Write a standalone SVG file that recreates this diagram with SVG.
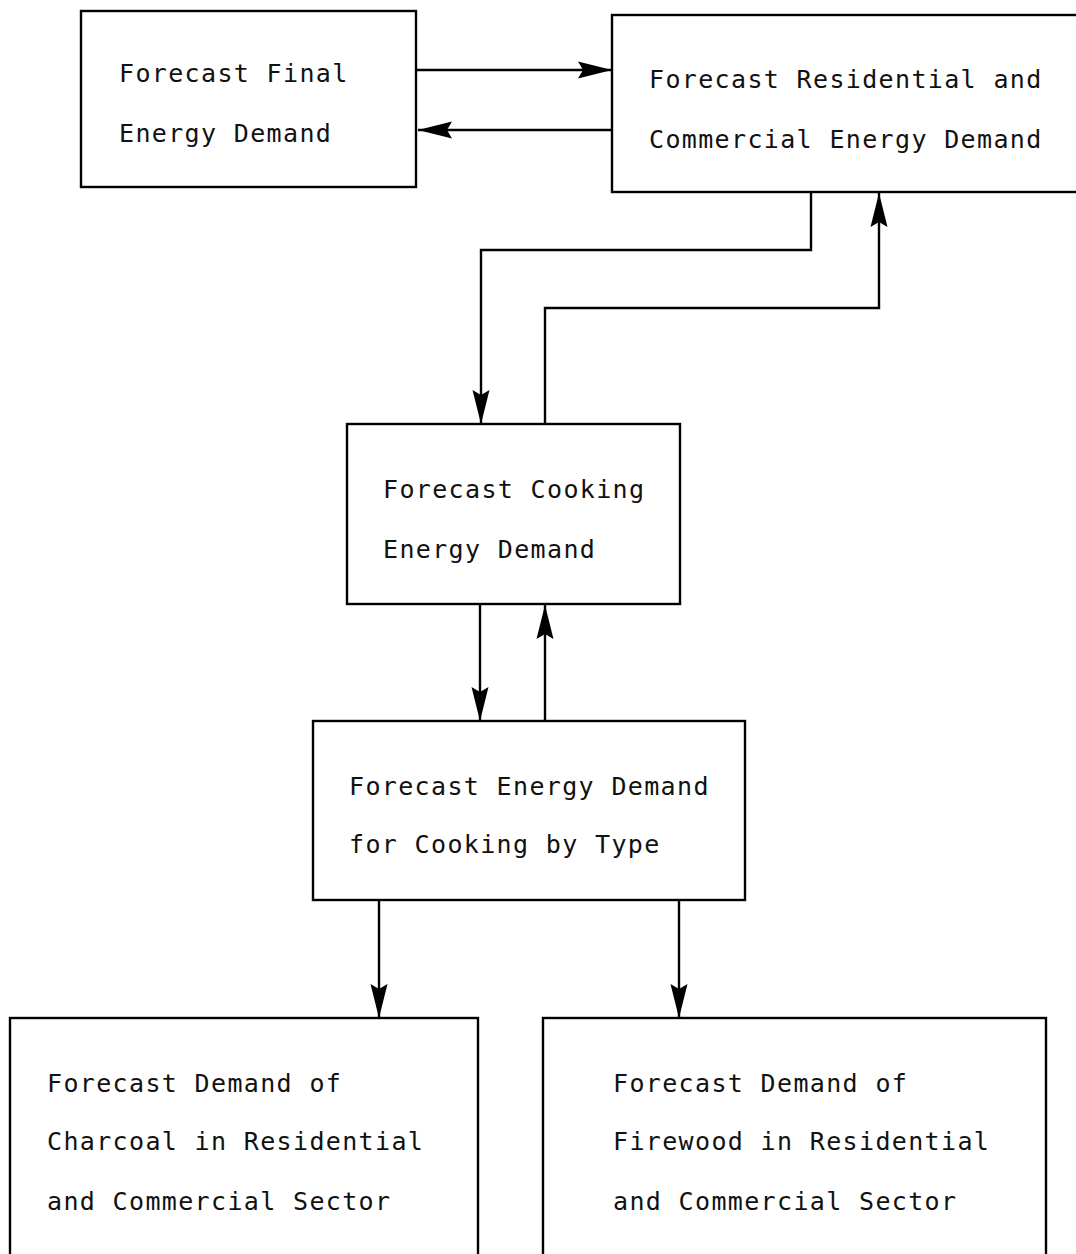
<svg xmlns="http://www.w3.org/2000/svg" width="1076" height="1254" viewBox="0 0 1076 1254">
<style>
.box{fill:none;stroke:#000;stroke-width:2.4}
.lbl{font-family:"DejaVu Sans Mono","Liberation Mono",monospace;font-size:25px;letter-spacing:1.35px;fill:#111}
.con{fill:none;stroke:#000;stroke-width:2.4}
</style>
<defs>
<marker id="ah" markerUnits="userSpaceOnUse" markerWidth="40" markerHeight="20" viewBox="0 -10 40 20" refX="34" refY="0" orient="auto">
<path d="M0,-8.5 L34,0 L0,8.5 L5,0 z" fill="#000"/>
</marker>
</defs>
<rect width="1076" height="1254" fill="#fff"/>
<g id="n1">
<rect class="box" x="81" y="11" width="335" height="176"/>
<text class="lbl" x="119" y="82">Forecast Final</text>
<text class="lbl" x="119" y="142">Energy Demand</text>
</g>
<g id="n2">
<rect class="box" x="612" y="15" width="480" height="177"/>
<text class="lbl" x="649" y="88">Forecast Residential and</text>
<text class="lbl" x="649" y="148">Commercial Energy Demand</text>
</g>
<g id="n3">
<rect class="box" x="347" y="424" width="333" height="180"/>
<text class="lbl" x="383" y="498">Forecast Cooking</text>
<text class="lbl" x="383" y="558">Energy Demand</text>
</g>
<g id="n4">
<rect class="box" x="313" y="721" width="432" height="179"/>
<text class="lbl" x="349" y="795">Forecast Energy Demand</text>
<text class="lbl" x="349" y="853">for Cooking by Type</text>
</g>
<g id="n5">
<rect class="box" x="10" y="1018" width="468" height="260"/>
<text class="lbl" x="47" y="1092">Forecast Demand of</text>
<text class="lbl" x="47" y="1150">Charcoal in Residential</text>
<text class="lbl" x="47" y="1210">and Commercial Sector</text>
</g>
<g id="n6">
<rect class="box" x="543" y="1018" width="503" height="260"/>
<text class="lbl" x="613" y="1092">Forecast Demand of</text>
<text class="lbl" x="613" y="1150">Firewood in Residential</text>
<text class="lbl" x="613" y="1210">and Commercial Sector</text>
</g>
<g id="connectors">
<path class="con" d="M416,70 L612,70" marker-end="url(#ah)"/>
<path class="con" d="M612,130 L418,130" marker-end="url(#ah)"/>
<path class="con" d="M811,192 L811,250 L481,250 L481,424" marker-end="url(#ah)"/>
<path class="con" d="M545,424 L545,308 L879,308 L879,193" marker-end="url(#ah)"/>
<path class="con" d="M480,604 L480,721" marker-end="url(#ah)"/>
<path class="con" d="M545,721 L545,605" marker-end="url(#ah)"/>
<path class="con" d="M379,900 L379,1018" marker-end="url(#ah)"/>
<path class="con" d="M679,900 L679,1018" marker-end="url(#ah)"/>
</g>
</svg>
